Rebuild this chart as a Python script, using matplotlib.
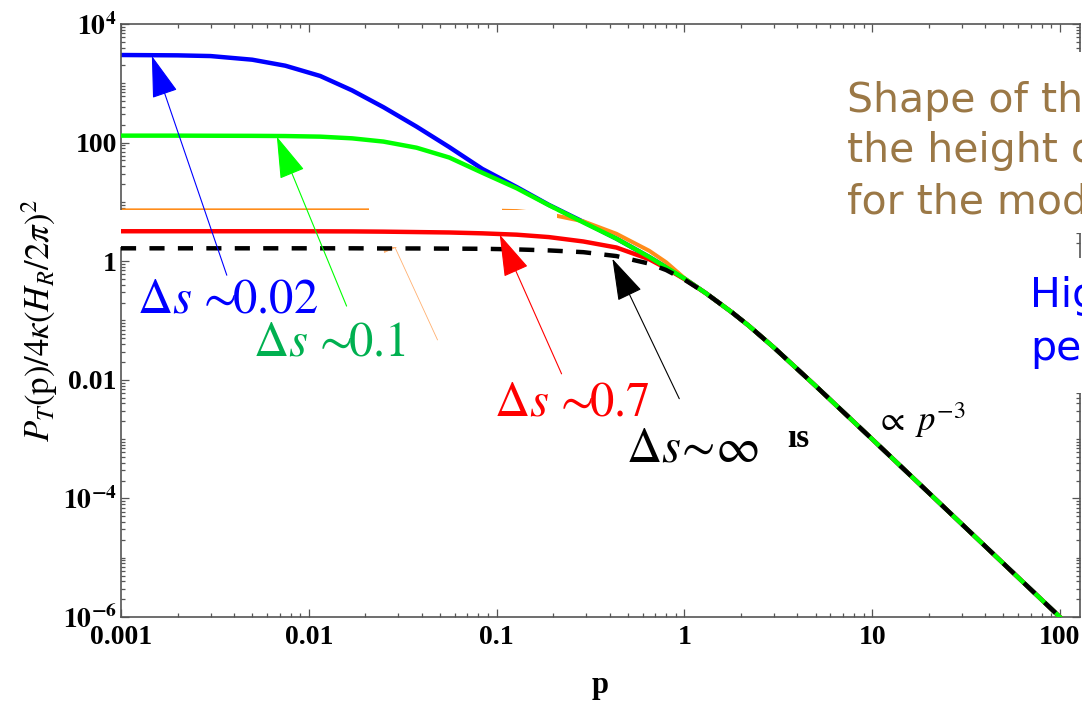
import matplotlib
matplotlib.use("Agg")
import matplotlib.pyplot as plt
from matplotlib.patches import Rectangle
from matplotlib.ticker import FixedLocator, NullFormatter

plt.rcParams['mathtext.fontset'] = 'stix'
plt.rcParams['font.family'] = ['Liberation Serif', 'DejaVu Serif']

# ---- data: tensor spectrum P_T(p) for several Delta s --------------------
p_vals = [0.001, 0.002, 0.003, 0.005, 0.0075, 0.0115, 0.017, 0.025, 0.0375,
          0.056, 0.084, 0.128, 0.19, 0.29, 0.435, 0.65, 0.8, 1.0, 1.3, 1.8,
          2.2, 3.0, 5.0, 10.0, 20.0, 50.0, 100.0, 130.0]

pt_ds002 = [3000, 2960, 2880, 2500, 1980, 1330, 760, 395, 186, 84, 36, 17.8,
            8.9, 4.6, 2.4, 1.18, 0.79, 0.51, 0.29, 0.136, 0.082, 0.035,
            0.0079, 1.0e-3, 1.25e-4, 8.0e-6, 1.0e-6, 4.6e-7]
pt_ds01 = [131, 131, 130.5, 130, 129, 126, 118, 104, 82, 56, 31, 17.0, 8.8,
           4.5, 2.4, 1.18, 0.79, 0.51, 0.29, 0.136, 0.082, 0.035, 0.0079,
           1.0e-3, 1.25e-4, 8.0e-6, 1.0e-6, 4.6e-7]
pt_ds03 = [7.2, 7.2, 7.2, 7.2, 7.2, 7.2, 7.2, 7.2, 7.2, 7.2, 7.2, 7.0, 6.2,
           4.7, 2.9, 1.5, 0.96, 0.52, 0.29, 0.136, 0.082, 0.035, 0.0079,
           1.0e-3, 1.25e-4, 8.0e-6, 1.0e-6, 4.6e-7]
pt_ds07 = [3.2, 3.2, 3.2, 3.2, 3.2, 3.19, 3.18, 3.15, 3.1, 3.05, 2.95, 2.8,
           2.55, 2.15, 1.7, 1.08, 0.76, 0.50, 0.29, 0.136, 0.082, 0.035,
           0.0079, 1.0e-3, 1.25e-4, 8.0e-6, 1.0e-6, 4.6e-7]
pt_dsinf = [1.65, 1.65, 1.65, 1.65, 1.65, 1.65, 1.65, 1.64, 1.64, 1.63, 1.62,
            1.58, 1.52, 1.42, 1.22, 0.91, 0.71, 0.49, 0.29, 0.136, 0.082,
            0.035, 0.0079, 1.0e-3, 1.25e-4, 8.0e-6, 1.0e-6, 4.6e-7]

x_ticks = [1e-3, 1e-2, 1e-1, 1, 10, 100]
x_tick_labels = ['0.001', '0.01', '0.1', '1', '10', '100']
y_ticks = [1e-6, 1e-4, 1e-2, 1, 100, 1e4]
y_tick_labels = [r'$\mathbf{10^{-6}}$', r'$\mathbf{10^{-4}}$', '0.01', '1',
                 '100', r'$\mathbf{10^{4}}$']

# ---- figure ---------------------------------------------------------------
W, H = 1082, 701
fig = plt.figure(figsize=(W / 100, H / 100), dpi=100, facecolor='white')
ax = fig.add_axes([121 / W, (H - 617) / H, (1080 - 121) / W, (617 - 24) / H])
ax.set_xscale('log')
ax.set_yscale('log')
ax.set_xlim(1e-3, 128)
ax.set_ylim(1e-6, 1e4)

lw = 3.2
ax.plot(p_vals, pt_ds002, color='#0000ff', lw=lw, zorder=2.0,
        solid_capstyle='butt')
ax.plot(p_vals, pt_ds03, color='#ff8c1a', lw=lw * 0.9, zorder=2.2,
        solid_capstyle='butt')
ax.plot(p_vals, pt_ds07, color='#ff0000', lw=lw, zorder=4.0,
        solid_capstyle='butt')
ax.plot(p_vals, pt_ds01, color='#00ff00', lw=lw, zorder=4.5,
        solid_capstyle='butt')
ax.plot(p_vals, pt_dsinf, color='black', lw=lw, zorder=5.0,
        dashes=(3.4, 3.0))

# white label boxes that hide most of the Delta s ~ 0.3 curve
ax.add_patch(Rectangle((0.00092, 1.72), 0.21 - 0.00092, 7.25 - 1.72,
                       facecolor='white', edgecolor='none', zorder=3.0,
                       clip_on=False))
ax.add_patch(Rectangle((0.021, 5.5), 0.107 - 0.021, 8.2 - 5.5,
                       facecolor='white', edgecolor='none', zorder=3.0))

# ---- frame and ticks ------------------------------------------------------
frame_col = '#555555'
for sp in ax.spines.values():
    sp.set_color(frame_col)
    sp.set_linewidth(1.2)

ax.xaxis.set_major_locator(FixedLocator(x_ticks))
ax.set_xticklabels(x_tick_labels)
ax.yaxis.set_major_locator(FixedLocator(y_ticks))
ax.set_yticklabels(y_tick_labels)
ax.xaxis.set_minor_locator(FixedLocator(
    [m * 10.0 ** k for k in range(-3, 3) for m in range(2, 10)]))
ax.yaxis.set_minor_locator(FixedLocator(
    [m * 10.0 ** k for k in range(-6, 4) for m in range(1, 10)]))
ax.xaxis.set_minor_formatter(NullFormatter())
ax.yaxis.set_minor_formatter(NullFormatter())

ax.tick_params(which='both', direction='in', top=True, right=True,
               color=frame_col, width=0.9, labelsize=20, labelcolor='black')
ax.tick_params(which='major', length=6)
ax.tick_params(which='minor', length=3)
ax.tick_params(axis='x', which='major', pad=6)
ax.tick_params(axis='y', which='major', pad=3)
for lab in ax.get_xticklabels() + ax.get_yticklabels():
    lab.set_fontweight('bold')

ax.set_ylabel(r'$P_T(\mathrm{p})/4\kappa(H_R/2\pi)^2$', fontsize=25,
              labelpad=2)
fig.text(600 / W, (H - 693) / H, 'p', ha='center', va='baseline',
         fontsize=22, fontweight='bold')

# ---- arrows and labels ----------------------------------------------------
def arrow(tip, tail, color, lw_=0.8, z=6, alpha=1.0):
    ax.annotate('', xy=tip, xytext=tail, zorder=z,
                arrowprops=dict(arrowstyle='-|>,head_length=1.35,head_width=0.42',
                                mutation_scale=20, color=color, lw=lw_,
                                alpha=alpha, shrinkA=0, shrinkB=0))

arrow((0.00146, 2900), (0.00366, 0.58), '#0000ff')
arrow((0.00676, 126), (0.0159, 0.175), '#00ff00')
arrow((0.0236, 6.7), (0.0485, 0.047), '#ffb070', lw_=0.6, z=2.3)
arrow((0.104, 2.8), (0.222, 0.0126), '#ff0000')
arrow((0.414, 1.1), (0.94, 0.0048), 'black')

lab_fs = 35
ax.text(0.00122, 0.139, r'$\Delta s\,\sim\!\!0.02$', color='#0000ff',
        fontsize=lab_fs, va='baseline', ha='left', zorder=7)
ax.text(0.00504, 0.0253, r'$\Delta s\,\sim\!\!0.1$', color='#00b050',
        fontsize=lab_fs, va='baseline', ha='left', zorder=7)
ax.text(0.0975, 0.00248, r'$\Delta s\,\sim\!\!0.7$', color='#ff0000',
        fontsize=lab_fs, va='baseline', ha='left', zorder=7)
ax.text(0.491, 4.19e-4, r'$\Delta s\!\sim\!\infty$', color='black',
        fontsize=lab_fs, va='baseline', ha='left', zorder=7)
ax.text(3.53, 7.48e-4, 'ıs', color='black', fontsize=24, fontweight='bold',
        va='baseline', ha='left', zorder=7)
ax.text(10.3, 1.39e-3, r'$\propto\ p^{-3}$', color='black', fontsize=25,
        va='baseline', ha='left', zorder=7)

# ---- side notes (run off the right edge) ----------------------------------
fig.patches.append(Rectangle((835 / W, (H - 233) / H), (W - 835) / W,
                             (233 - 52) / H, transform=fig.transFigure,
                             facecolor='white', edgecolor='none', zorder=5))
fig.patches.append(Rectangle((1020 / W, (H - 393) / H), (W - 1020) / W,
                             (393 - 258) / H, transform=fig.transFigure,
                             facecolor='white', edgecolor='none', zorder=5))

note_col = '#9b7846'
for txt, base in [('Shape of th', 112), ('the height o', 162),
                  ('for the mod', 213)]:
    fig.text(847 / W, (H - base) / H, txt, color=note_col, fontsize=29.5,
             family='DejaVu Sans', va='baseline', ha='left', zorder=6)
for txt, base in [('Hig', 307), ('pe', 360)]:
    fig.text(1030 / W, (H - base) / H, txt, color='#0000ff', fontsize=29.5,
             family='DejaVu Sans', va='baseline', ha='left', zorder=6)

fig.savefig('out.png', dpi=100, facecolor='white')
